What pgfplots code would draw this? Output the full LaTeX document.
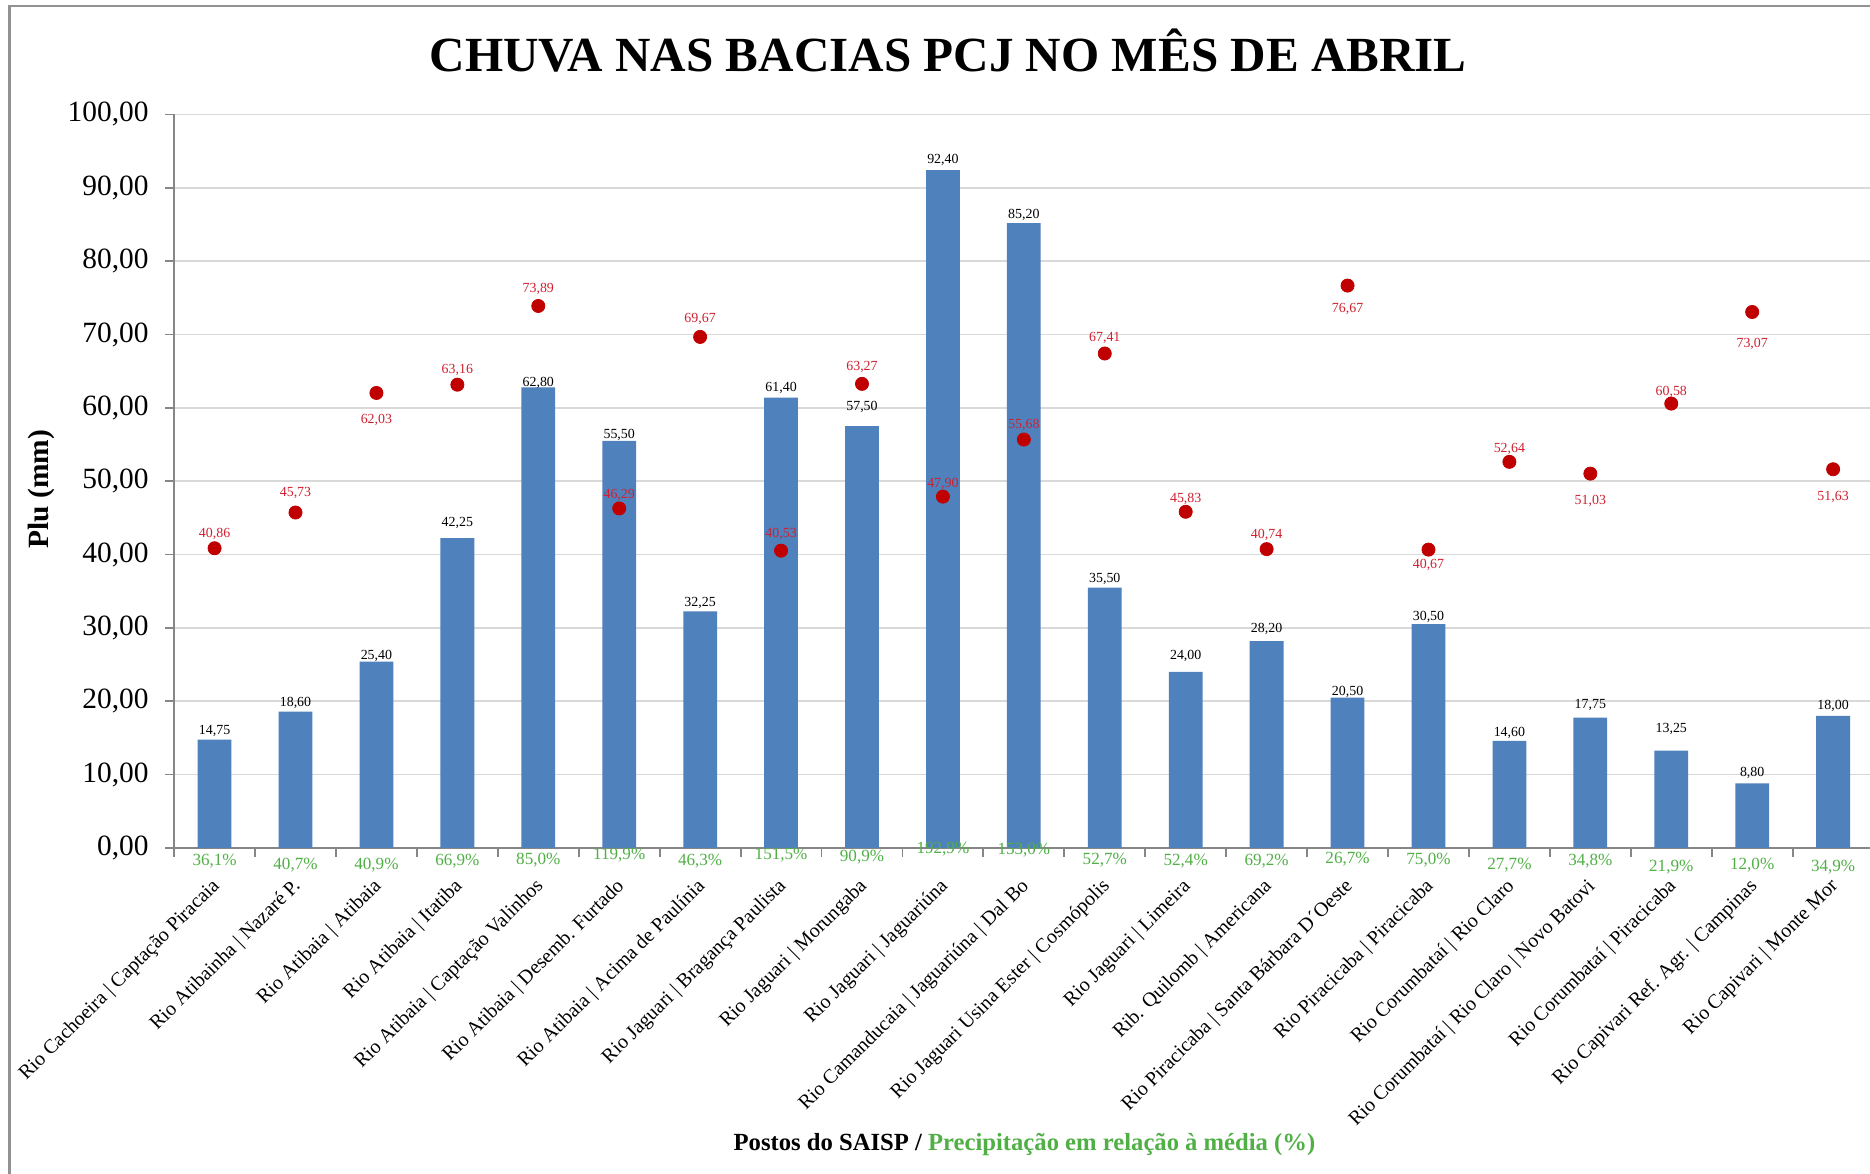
\documentclass[border=0pt]{standalone}
\usepackage{fontspec}
\setmainfont{Liberation Serif}
\usepackage{pgfplots}
\usepackage{pgfplotstable}
\pgfplotsset{compat=1.18}
\definecolor{barblue}{HTML}{4F81BD}
\definecolor{dotred}{HTML}{C00000}
\definecolor{lblred}{HTML}{D02030}
\definecolor{pctgreen}{RGB}{80,176,70}
\definecolor{gridgray}{HTML}{D9D9D9}
\definecolor{axgray}{HTML}{868686}

% x bar avg pct pctpos boff roff
\pgfplotstableread{
x bar avg pct pctpos boff roff
0 14.75 40.86 36.1 -1.8 7 12
1 18.60 45.73 40.7 -2.4 7 16
2 25.40 62.03 40.9 -2.4 5 -23
3 42.25 63.16 66.9 -1.8 13 12
4 62.80 73.89 85.0 -1.6 4 14
5 55.50 46.29 119.9 -1.0 5 11
6 32.25 69.67 46.3 -1.8 7 15
7 61.40 40.53 151.5 -1.0 8 14
8 57.50 63.27 90.9 -1.3 16 14
9 92.40 47.90 192.9 -0.2 9 11
10 85.20 55.68 153.0 -0.3 7 12
11 35.50 67.41 52.7 -1.6 7 13
12 24.00 45.83 52.4 -1.8 13 11
13 28.20 40.74 69.2 -1.8 10 12
14 20.50 76.67 26.7 -1.5 5 -20
15 30.50 40.67 75.0 -1.6 6 -13
16 14.60 52.64 27.7 -2.3 7 11
17 17.75 51.03 34.8 -1.8 11 -23
18 13.25 60.58 21.9 -2.6 18 10
19 8.80 73.07 12.0 -2.4 9 -27
20 18.00 51.63 34.9 -2.6 8 -23
}\datatable

\begin{document}
\begin{tikzpicture}
\useasboundingbox (0,0) rectangle (940.8pt,590.4pt);
\fill[white] (0,0) rectangle (940.8pt,590.4pt);
\draw[axgray!90, line width=1.2pt] (4.8pt,-5pt) -- (4.8pt,587.4pt) -- (960pt,587.4pt);
\node[font=\bfseries\fontsize{24.7}{28}\selectfont, anchor=center] at (477pt,565.2pt) {CHUVA NAS BACIAS PCJ NO MÊS DE ABRIL};
\begin{axis}[
  at={(87.6pt,163.8pt)}, anchor=south west,
  scale only axis, width=855pt, height=369pt,
  xmin=-0.5, xmax=20.5, ymin=0, ymax=100,
  clip=false,
  axis x line*=bottom, axis y line*=left,
  axis line style={draw=axgray, line width=0.9pt, -},
  /pgf/number format/assume math mode=true,
  ytick={0,10,...,100},
  yticklabel style={font=\fontsize{14.8}{16}\selectfont, xshift=-4.8pt, /pgf/number format/.cd, fixed, fixed zerofill, precision=2, use comma},
  ymajorgrids, grid style={draw=gridgray, line width=0.9pt},
  tick align=outside,
  major tick length=4.5pt, minor tick length=4.5pt,
  major tick style={draw=axgray, line width=0.9pt},
  minor tick style={draw=axgray, line width=0.9pt},
  major x tick style={draw=none},
  xtick={0,...,20},
  minor xtick={-0.5,0.5,...,20.5},
  xticklabels={
    Rio Cachoeira | Captação Piracaia,
    Rio Atibainha | Nazaré P.,
    Rio Atibaia | Atibaia,
    Rio Atibaia | Itatiba,
    Rio Atibaia | Captação Valinhos,
    Rio Atibaia | Desemb. Furtado,
    Rio Atibaia | Acima de Paulínia,
    Rio Jaguari | Bragança Paulista,
    Rio Jaguari | Morungaba,
    Rio Jaguari | Jaguariúna,
    Rio Camanducaia | Jaguariúna | Dal Bo,
    Rio Jaguari Usina Ester | Cosmópolis,
    Rio Jaguari | Limeira,
    Rib. Quilomb | Americana,
    Rio Piracicaba | Santa Bárbara D´Oeste,
    Rio Piracicaba | Piracicaba,
    Rio Corumbataí | Rio Claro,
    Rio Corumbataí | Rio Claro | Novo Batovi,
    Rio Corumbataí | Piracicaba,
    Rio Capivari Ref. Agr. | Campinas,
    Rio Capivari | Monte Mor},
  xticklabel style={font=\fontsize{10.1}{12}\selectfont, yshift=-10pt, xshift=-2.2pt, rotate=45, anchor=north east, inner sep=0pt},
  ylabel={Plu (mm)},
  ylabel style={font=\bfseries\fontsize{14.8}{16}\selectfont, at={(axis description cs:-0.078,0.489)}, anchor=center},
]
% bars
\addplot[ybar, bar width=17pt, bar shift=0pt, fill=barblue, draw=none,
  visualization depends on={\thisrow{boff} \as \boff},
  nodes near coords={\pgfmathprintnumber[fixed,fixed zerofill,precision=2,use comma]{\pgfplotspointmeta}},
  every node near coord/.append style={font=\fontsize{7}{8}\selectfont, text=black, anchor=center, yshift={\boff*0.6pt}, inner sep=0pt}
] table[x=x, y=bar] {\datatable};
% percentage labels
\addplot[draw=none, mark=none,
  point meta={\thisrow{pct}},
  nodes near coords={\pgfmathprintnumber[fixed,fixed zerofill,precision=1,use comma]{\pgfplotspointmeta}\%},
  every node near coord/.append style={font=\fontsize{8.6}{10}\selectfont, text=pctgreen, anchor=center, inner sep=0pt}
] table[x=x, y=pctpos] {\datatable};
% red dots
\addplot[only marks, mark=*, mark size=3.3pt, color=dotred,
  visualization depends on={\thisrow{roff} \as \roff},
  nodes near coords={\pgfmathprintnumber[fixed,fixed zerofill,precision=2,use comma]{\pgfplotspointmeta}},
  every node near coord/.append style={font=\fontsize{7}{8}\selectfont, text=lblred, anchor=center, yshift={\roff*0.6pt}, inner sep=0pt}
] table[x=x, y=avg] {\datatable};
\end{axis}
\node[font=\bfseries\fontsize{12.4}{14}\selectfont, anchor=center] at (515.4pt,14.4pt) {Postos do SAISP / \textcolor{pctgreen}{Precipitação em relação à média (\%)}};
\end{tikzpicture}
\end{document}
